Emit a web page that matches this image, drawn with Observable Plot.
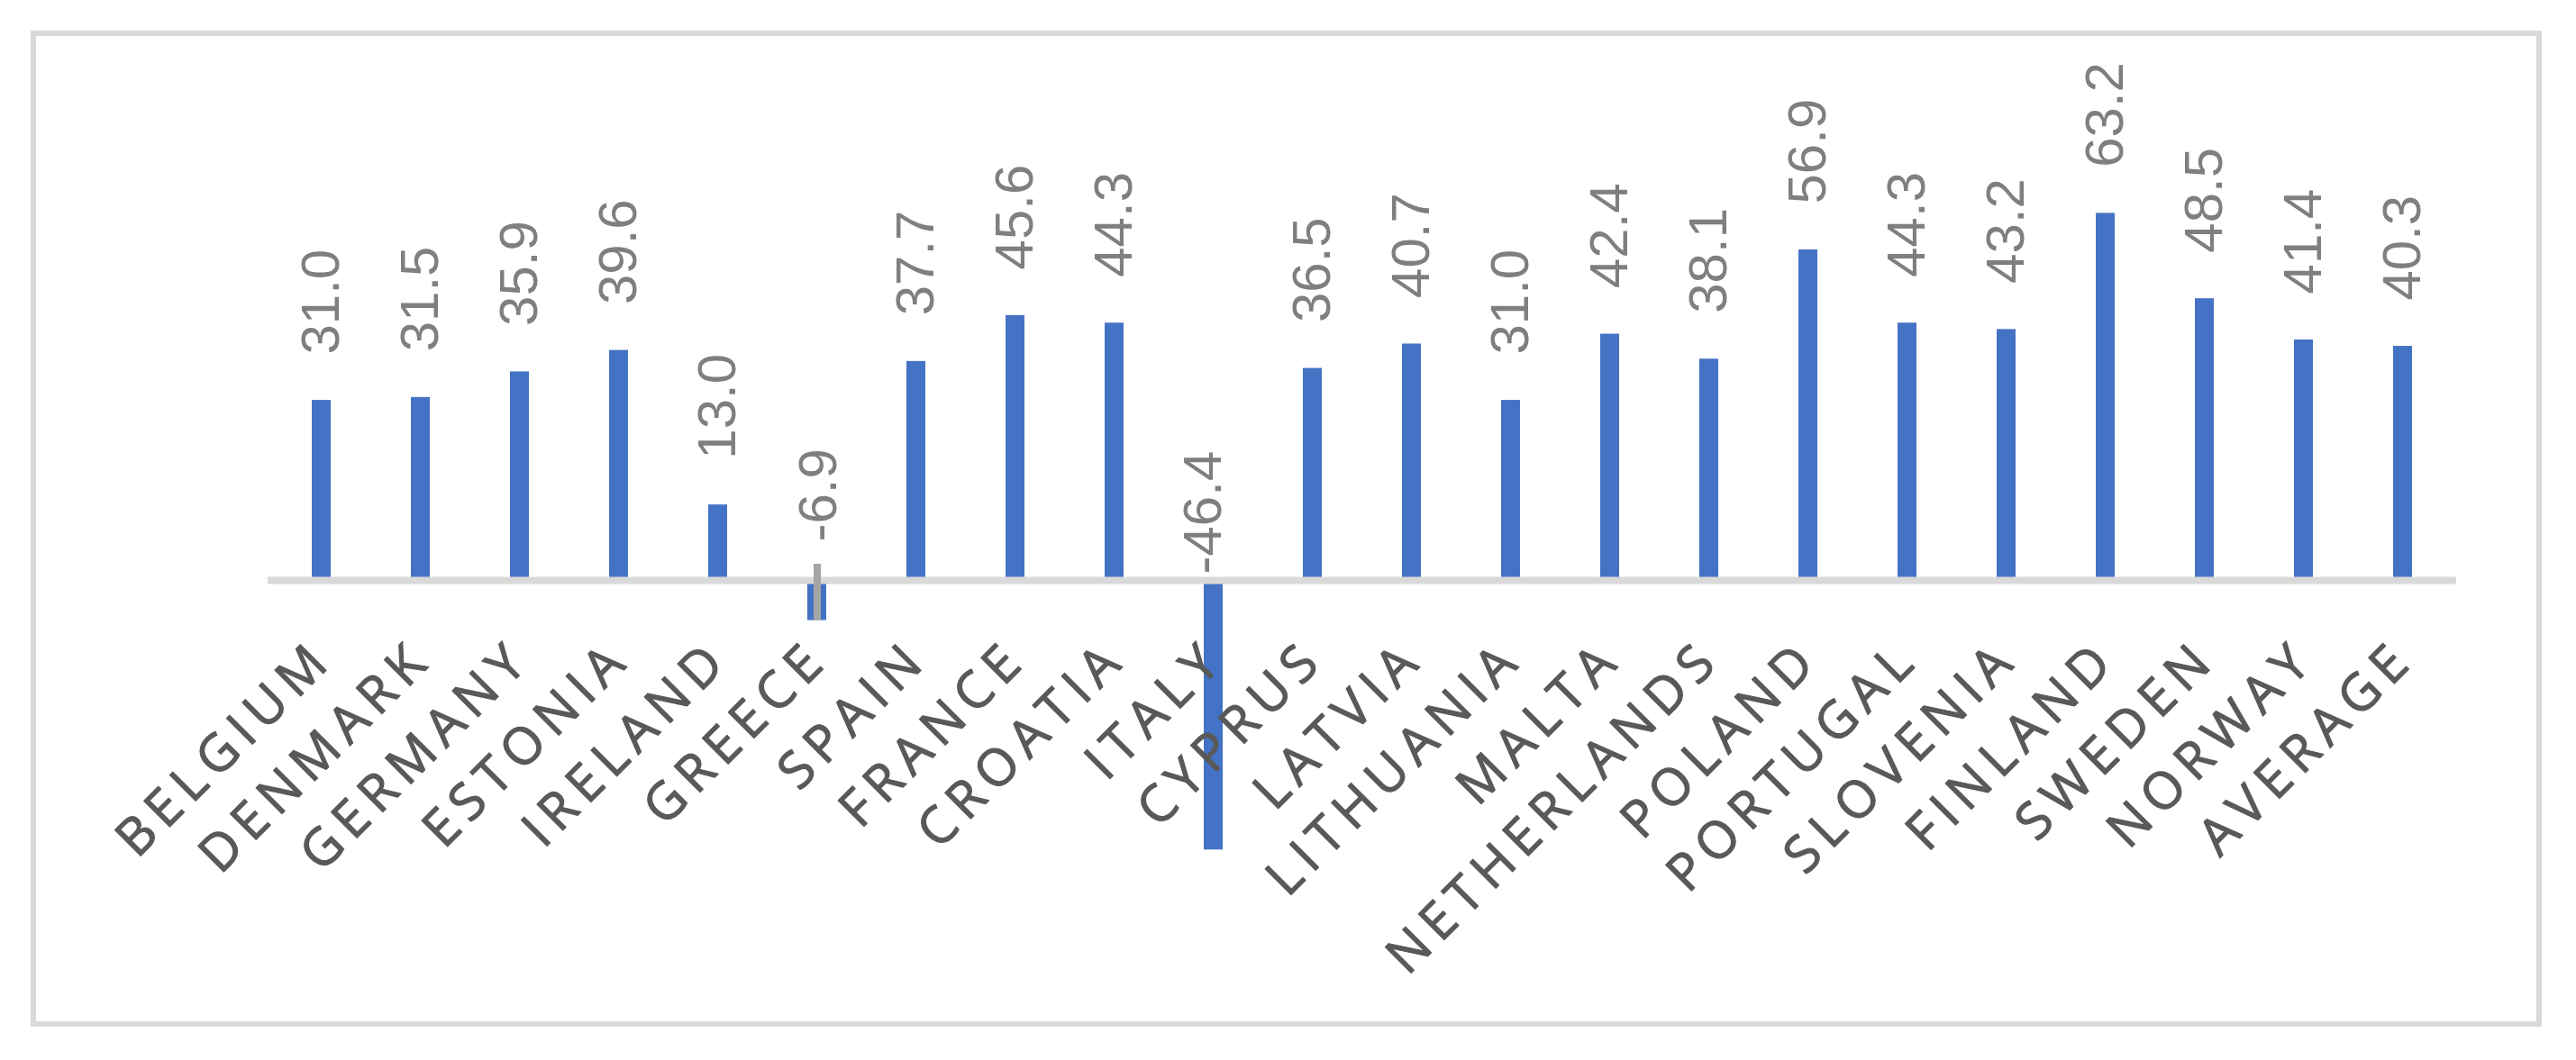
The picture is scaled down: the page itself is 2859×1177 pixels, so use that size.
<!DOCTYPE html>
<html>
<head>
<meta charset="utf-8">
<script src="https://cdn.jsdelivr.net/npm/d3@7"></script>
<script src="https://cdn.jsdelivr.net/npm/@observablehq/plot@0.6"></script>
<style>
  html, body { margin: 0; padding: 0; background: #ffffff; }
  #chart svg { display: block; }
</style>
</head>
<body>
<div id="chart"></div>
<script>
// ---- data ----
const countries = ["BELGIUM","DENMARK","GERMANY","ESTONIA","IRELAND","GREECE","SPAIN","FRANCE","CROATIA","ITALY","CYPRUS","LATVIA","LITHUANIA","MALTA","NETHERLANDS","POLAND","PORTUGAL","SLOVENIA","FINLAND","SWEDEN","NORWAY","AVERAGE"];
const values = [31.0,31.5,35.9,39.6,13.0,-6.9,37.7,45.6,44.3,-46.4,36.5,40.7,31.0,42.4,38.1,56.9,44.3,43.2,63.2,48.5,41.4,40.3];

const data = countries.map((c, i) => ({country: c, value: values[i], label: values[i].toFixed(1)}));

// ---- layout ----
const W = 2859, H = 1177;
const mL = 36.5, mR = 41.5, mT = 36.5, mB = 40.5;
const zeroPx = 644, pxPerUnit = 6.45;
const yTop = (zeroPx - mT) / pxPerUnit;
const yBot = -((H - mB) - zeroPx) / pxPerUnit;
const inL = 260.5, inR = 91.5;

const positives = data.filter(d => d.value >= 0);
const negatives = data.filter(d => d.value < 0);
// manual label placements for negative bars (as in the original)
const negShift = {GREECE: {dx: 2, dy: -43}, ITALY: {dx: -11, dy: -7}};

const ls = 9;
const valueFont = "Liberation Sans, Arial, sans-serif";
const catFont = "Open Sans, sans-serif";

const chart = Plot.plot({
  width: W, height: H,
  marginLeft: mL, marginRight: mR, marginTop: mT, marginBottom: mB,
  x: {domain: countries, paddingInner: 0.81, paddingOuter: 0.405, insetLeft: inL, insetRight: inR, axis: null},
  y: {domain: [yBot, yTop], axis: null},
  marks: [
    Plot.frame({stroke: "#d9d9d9", strokeWidth: 6}),
    Plot.barY(data, {x: "country", y: "value", fill: "#4472c4"}),
    Plot.ruleY([0], {stroke: "#d9d9d9", strokeWidth: 8, insetLeft: inL, insetRight: inR}),
    Plot.text(data, {
      x: "country", y: 0, text: "country",
      rotate: -45, textAnchor: "end", lineAnchor: "bottom",
      dx: 9 + ls * 0.707, dy: 96 - ls * 0.707,
      fontSize: 57, fontWeight: 400, fontFamily: catFont,
      fill: "#595959", stroke: "#595959", strokeWidth: 1.2
    }),
    Plot.ruleX(negatives.filter(d => d.country === "GREECE"), {
      x: "country", y1: 0, y2: "value", stroke: "#a5a5a5", strokeWidth: 8, insetTop: -18
    }),
    Plot.text(positives, {
      x: "country", y: "value", text: "label",
      rotate: -90, textAnchor: "start", dy: -51,
      fontSize: 60, fontFamily: valueFont, fill: "#7f7f7f"
    }),
    ...negatives.map(d => Plot.text([d], {
      x: "country", y: 0, text: "label",
      rotate: -90, textAnchor: "start",
      dx: negShift[d.country].dx, dy: negShift[d.country].dy,
      fontSize: 60, fontFamily: valueFont, fill: "#7f7f7f"
    }))
  ]
});
d3.select(chart).selectAll("text")
  .filter(function() { return countries.includes(this.textContent); })
  .style("letter-spacing", ls + "px");
document.getElementById("chart").appendChild(chart);
</script>
</body>
</html>
